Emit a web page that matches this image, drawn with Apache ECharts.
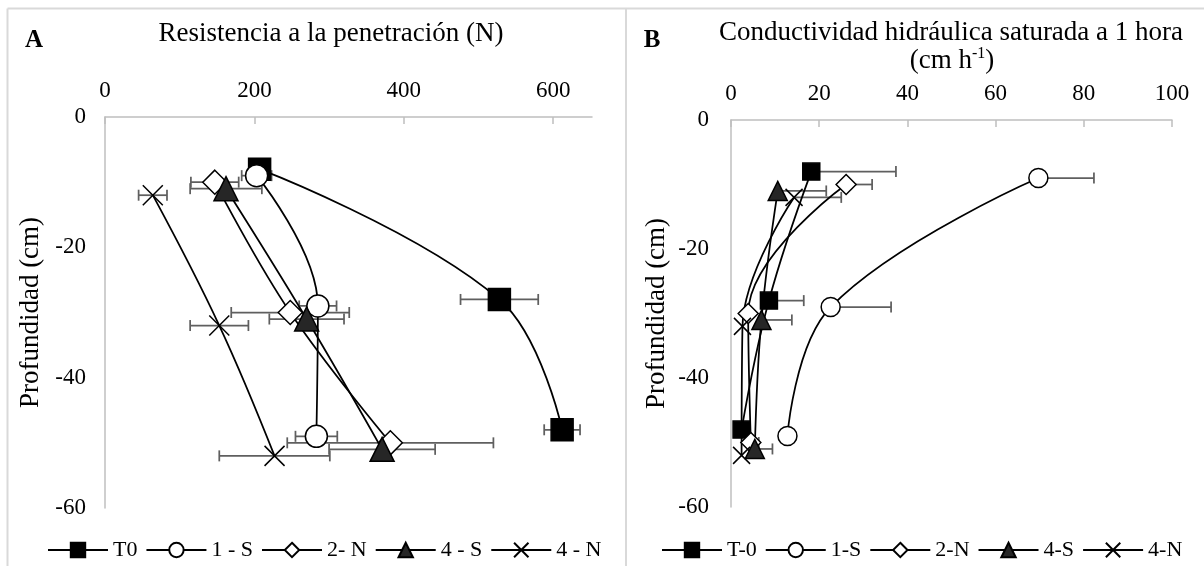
<!DOCTYPE html>
<html><head><meta charset="utf-8">
<script src="https://cdn.jsdelivr.net/npm/echarts@6/dist/echarts.min.js"></script>
<style>html,body{margin:0;padding:0;background:#fff}#c{width:1204px;height:566px}</style>
</head><body><div id="c"></div>
<script>
// ---- Depths (cm), same sampling depths in both panels ----
const depth_T0 = [-8, -28, -48];
const depth_1S = [-9, -29, -49];
const depth_2N = [-10, -30, -50];
const depth_4S = [-11, -31, -51];
const depth_4N = [-12, -32, -52];

// ---- Panel A: Resistencia a la penetración (N) ----
const namesA = ['T0', '1 - S', '2- N', '4 - S', '4 - N'];
const rp_T0 = [207, 528, 612]; const rpErr_T0 = [8, 52, 24];
const rp_1S = [203, 285, 283]; const rpErr_1S = [20, 25, 28];
const rp_2N = [147, 248, 382]; const rpErr_2N = [32, 79, 138];
const rp_4S = [162, 270, 371]; const rpErr_4S = [48, 50, 71];
const rp_4N = [64, 153, 227];  const rpErr_4N = [19, 39, 74];

// ---- Panel B: Conductividad hidráulica saturada a 1 hora (cm h-1) ----
const namesB = ['T-0', '1-S', '2-N', '4-S', '4-N'];
const ks_T0 = [18.2, 8.6, 2.4];  const ksErr_T0 = [19.2, 7.9, 0];
const ks_1S = [69.7, 22.6, 12.8]; const ksErr_1S = [12.6, 13.7, 0];
const ks_2N = [26.1, 3.9, 4.5];  const ksErr_2N = [5.9, 0, 1.8];
const ks_4S = [10.6, 6.9, 5.4];  const ksErr_4S = [11.0, 6.9, 4.0];
const ks_4N = [14.3, 2.6, 2.4];  const ksErr_4N = [10.7, 0, 0];

// ---- Tick labels ----
const xTicksA = [0, 200, 400, 600];
const xTicksB = [0, 20, 40, 60, 80, 100];
const yTicks = [0, -20, -40, -60];

const FONT = '"Liberation Serif", "Times New Roman", serif';
const CROSS = 'path://M0,0L10,10M10,0L0,10';

function lineSeries(name, xs, ys, symbol, size, fill, gi) {
  return {
    name: name, type: 'line', xAxisIndex: gi, yAxisIndex: gi,
    data: xs.map((x, i) => [x, ys[i]]),
    smooth: 0.4, symbol: symbol, symbolSize: size, showAllSymbol: true,
    lineStyle: { color: '#000', width: 1.75 },
    itemStyle: { color: fill, borderColor: '#000', borderWidth: 1.5 },
    z: 3, clip: false, silent: true
  };
}
function errSeries(xs, ys, es, gi, plusOnly) {
  return {
    type: 'custom', xAxisIndex: gi, yAxisIndex: gi, z: 2, silent: true, clip: false,
    data: xs.map((x, i) => [x, ys[i], es[i]]),
    encode: { x: 0, y: 1 },
    renderItem: function (params, api) {
      const x = api.value(0), y = api.value(1), e = api.value(2);
      if (!e) return null;
      const p0 = api.coord([plusOnly ? x : x - e, y]);
      const p1 = api.coord([x + e, y]);
      const cap = 5.5;
      const st = { stroke: '#5f5f5f', lineWidth: 1.75 };
      const ch = [
        { type: 'line', shape: { x1: p0[0], y1: p0[1], x2: p1[0], y2: p1[1] }, style: st },
        { type: 'line', shape: { x1: p1[0], y1: p1[1] - cap, x2: p1[0], y2: p1[1] + cap }, style: st }
      ];
      if (!plusOnly) ch.push({ type: 'line', shape: { x1: p0[0], y1: p0[1] - cap, x2: p0[0], y2: p0[1] + cap }, style: st });
      return { type: 'group', children: ch };
    }
  };
}

const axisGray = '#bfbfbf';
function xAxisCfg(gi, ticks, max) {
  return {
    type: 'value', gridIndex: gi, position: 'top', min: ticks[0], max: max,
    interval: ticks[1] - ticks[0],
    axisLine: { show: true, lineStyle: { color: axisGray, width: 1.5 } },
    axisTick: { show: true, inside: true, length: 7, lineStyle: { color: axisGray, width: 1.5 } },
    splitLine: { show: false },
    axisLabel: { fontFamily: FONT, fontSize: 23, color: '#000', margin: 15, showMaxLabel: max === ticks[ticks.length - 1] }
  };
}
function yAxisCfg(gi, margin) {
  return {
    type: 'value', gridIndex: gi, min: yTicks[yTicks.length - 1], max: yTicks[0],
    interval: yTicks[0] - yTicks[1],
    name: 'Profundidad (cm)', nameLocation: 'middle', nameGap: 61,
    nameTextStyle: { fontFamily: FONT, fontSize: 27, color: '#000' },
    axisLine: { show: true, lineStyle: { color: axisGray, width: 1.5 } },
    axisTick: { show: false }, splitLine: { show: false },
    axisLabel: { fontFamily: FONT, fontSize: 23, color: '#000', margin: margin }
  };
}

const series = [
  errSeries(rp_T0, depth_T0, rpErr_T0, 0, false),
  errSeries(rp_1S, depth_1S, rpErr_1S, 0, false),
  errSeries(rp_2N, depth_2N, rpErr_2N, 0, false),
  errSeries(rp_4S, depth_4S, rpErr_4S, 0, false),
  errSeries(rp_4N, depth_4N, rpErr_4N, 0, false),
  lineSeries(namesA[0], rp_T0, depth_T0, 'rect', 22, '#000', 0),
  lineSeries(namesA[1], rp_1S, depth_1S, 'circle', 22, '#fff', 0),
  lineSeries(namesA[2], rp_2N, depth_2N, 'diamond', 24, '#fff', 0),
  lineSeries(namesA[3], rp_4S, depth_4S, 'triangle', 24, '#262626', 0),
  lineSeries(namesA[4], rp_4N, depth_4N, CROSS, 20, 'transparent', 0),
  errSeries(ks_T0, depth_T0, ksErr_T0, 1, true),
  errSeries(ks_1S, depth_1S, ksErr_1S, 1, true),
  errSeries(ks_2N, depth_2N, ksErr_2N, 1, true),
  errSeries(ks_4S, depth_4S, ksErr_4S, 1, true),
  errSeries(ks_4N, depth_4N, ksErr_4N, 1, true),
  lineSeries(namesB[0], ks_T0, depth_T0, 'rect', 17, '#000', 1),
  lineSeries(namesB[1], ks_1S, depth_1S, 'circle', 19, '#fff', 1),
  lineSeries(namesB[2], ks_2N, depth_2N, 'diamond', 20, '#fff', 1),
  lineSeries(namesB[3], ks_4S, depth_4S, 'triangle', 19, '#262626', 1),
  lineSeries(namesB[4], ks_4N, depth_4N, CROSS, 17, 'transparent', 1)
];

const legendCommon = {
  orient: 'horizontal', itemWidth: 60, itemHeight: 18, itemGap: 8, selectedMode: false,
  textStyle: { fontFamily: FONT, fontSize: 22, color: '#000' }
};

const chart = echarts.init(document.getElementById('c'), null, { renderer: 'canvas' });
chart.setOption({
  animation: false,
  backgroundColor: '#fff',
  grid: [
    { left: 105, top: 117, width: 487, height: 391 },
    { left: 731, top: 120, width: 441, height: 387 }
  ],
  xAxis: [xAxisCfg(0, xTicksA, 652), xAxisCfg(1, xTicksB, 100)],
  yAxis: [yAxisCfg(0, 19), yAxisCfg(1, 22)],
  legend: [
    Object.assign({ data: namesA, left: 42, top: 534 }, legendCommon),
    Object.assign({ data: namesB, left: 656, top: 534 }, legendCommon)
  ],
  series: series,
  graphic: [
    { type: 'line', shape: { x1: 7.5, y1: 8.5, x2: 1204, y2: 8.5 }, style: { stroke: '#d9d9d9', lineWidth: 2 }, silent: true },
    { type: 'line', shape: { x1: 7.5, y1: 8.5, x2: 7.5, y2: 566 }, style: { stroke: '#d9d9d9', lineWidth: 2 }, silent: true },
    { type: 'line', shape: { x1: 626, y1: 8.5, x2: 626, y2: 566 }, style: { stroke: '#d9d9d9', lineWidth: 2 }, silent: true },
    { type: 'text', x: 34, y: 41, style: { text: 'A', fontFamily: FONT, fontSize: 25, fontWeight: 'bold', fill: '#000', align: 'center', verticalAlign: 'middle' } },
    { type: 'text', x: 652, y: 41, style: { text: 'B', fontFamily: FONT, fontSize: 25, fontWeight: 'bold', fill: '#000', align: 'center', verticalAlign: 'middle' } },
    { type: 'text', x: 331, y: 34, style: { text: 'Resistencia a la penetración (N)', fontFamily: FONT, fontSize: 27, fill: '#000', align: 'center', verticalAlign: 'middle' } },
    { type: 'text', x: 951, y: 33, style: { text: 'Conductividad hidráulica saturada a 1 hora', fontFamily: FONT, fontSize: 27, fill: '#000', align: 'center', verticalAlign: 'middle' } },
    { type: 'text', x: 952, y: 61, style: { text: '(cm h{sup|-1})', fontFamily: FONT, fontSize: 27, fill: '#000', align: 'center', verticalAlign: 'middle',
        rich: { sup: { fontFamily: FONT, fontSize: 16, fill: '#000', verticalAlign: 'top', lineHeight: 30 } } } }
  ]
});
</script></body></html>
